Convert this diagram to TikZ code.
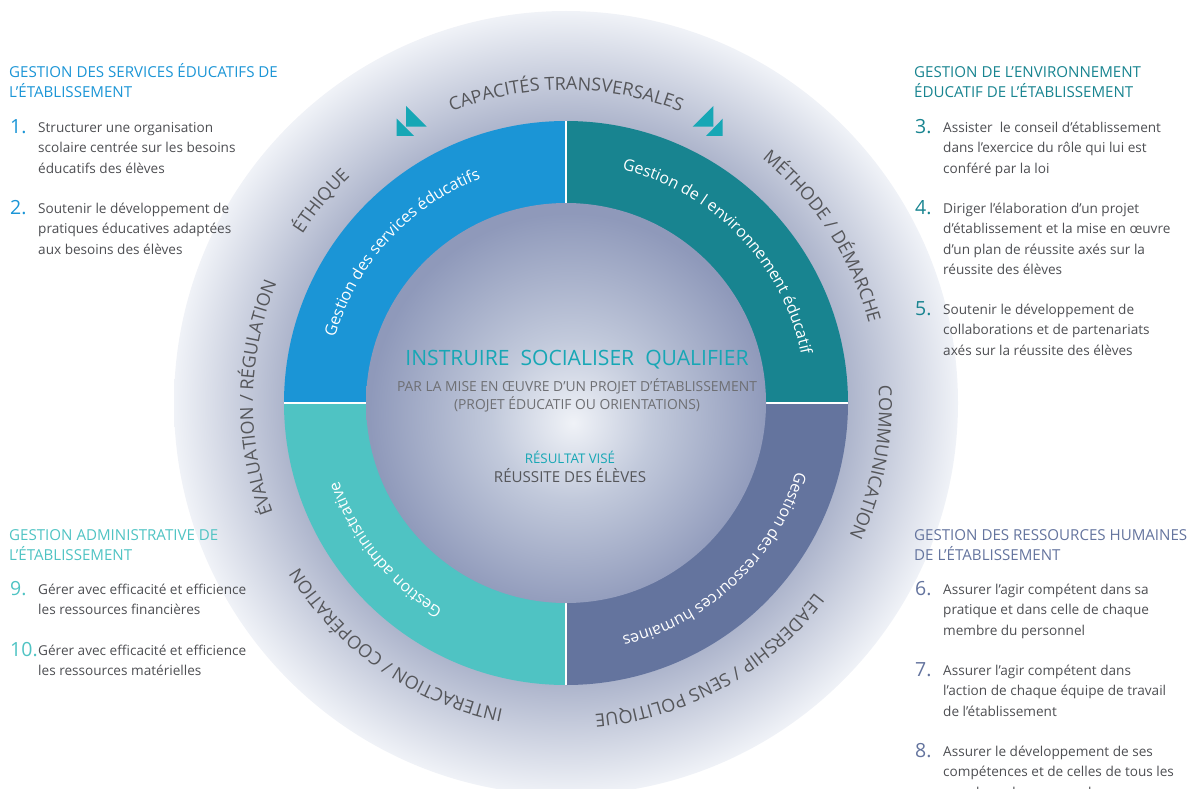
\documentclass[tikz,border=0pt]{standalone}
\usepackage{fontspec}
\usetikzlibrary{decorations.text}
\setmainfont{Open Sans}
\definecolor{blueseg}{HTML}{1B95D6}
\definecolor{tealseg}{HTML}{188490}
\definecolor{mintseg}{HTML}{4FC3C3}
\definecolor{slateseg}{HTML}{64749E}
\definecolor{accent}{HTML}{17A7B5}
\definecolor{arcgray}{HTML}{55565A}
\definecolor{bodygray}{HTML}{4D4E52}
\pgfdeclareradialshading{halo}{\pgfpoint{0bp}{0bp}}{rgb(0bp)=(0.62,0.66,0.77);rgb(18bp)=(0.68,0.71,0.80);rgb(25bp)=(0.94,0.95,0.97);rgb(50bp)=(0.94,0.95,0.97)}
\pgfdeclareradialshading{core}{\pgfpoint{0.9bp}{-2.5bp}}{rgb(0bp)=(0.94,0.95,0.97);rgb(10bp)=(0.76,0.79,0.86);rgb(25bp)=(0.56,0.60,0.73);rgb(50bp)=(0.56,0.60,0.73)}
\tikzset{
  itemtext/.style={anchor=north west,inner sep=0pt,align=left,text=bodygray,font=\fontsize{13.6}{20.4}\selectfont},
  itemnum/.style={anchor=base west,inner sep=0pt,font=\fontsize{19.5}{20}\selectfont},
  headtext/.style={anchor=north west,inner sep=0pt,align=left,font=\fontsize{15.1}{20}\selectfont},
  ringsep/.style={draw=white,line width=1.4pt}
}
% text on a clockwise arc round (ctr): radius, middle angle, format, words
\newcommand{\arctext}[4]{\path[decorate,decoration={text along path,text align=center,text={|#3|#4}}] ([shift={(#2+40:#1)}]ctr) arc[start angle=#2+40,end angle=#2-40,radius=#1];}
\newcommand{\capsarc}{\fontsize{18}{18}\selectfont\color{arcgray}}
\newcommand{\ringarc}{\fontsize{16}{16}\selectfont\color{white}}
\begin{document}
\begin{tikzpicture}[x=1pt,y=1pt]
    \useasboundingbox (0,0) rectangle (1188,-789);
    \coordinate (ctr) at (566,-403);
    \begin{scope}
    \clip (0,0) rectangle (1188,-789);
    \shade[shading=halo] (ctr) circle(392);
    \end{scope}
    % the four segments
    \foreach \a/\c in {180/blueseg,90/tealseg,0/slateseg,-90/mintseg}
    \fill[\c] (ctr) -- ++(\a:282) arc[start angle=\a,end angle=\a-90,radius=282] -- cycle;
    \draw[ringsep] (ctr) ++(0,282)--++(0,-564);
    \draw[ringsep] (ctr) ++(-282,0)--++(564,0);
    \shade[shading=core] (ctr) circle(200);
    % words round the ring
    \arctext{313}{90}{\capsarc}{CAPACITÉS TRANSVERSALES}
    \arctext{313}{33}{\capsarc}{MÉTHODE / DÉMARCHE}
    \arctext{313}{-11}{\capsarc}{COMMUNICATION}
    \arctext{313}{-61}{\capsarc}{LEADERSHIP / SENS POLITIQUE}
    \arctext{313}{-125}{\capsarc}{INTERACTION / COOPÉRATION}
    \arctext{313}{-181}{\capsarc}{ÉVALUATION / RÉGULATION}
    \arctext{313}{140.5}{\capsarc}{ÉTHIQUE}
    \arctext{240}{137.5}{\ringarc}{Gestion des services éducatifs}
    \arctext{240}{44}{\ringarc}{Gestion de l environnement éducatif}
    \arctext{240}{-46.5}{\ringarc}{Gestion des ressources humaines}
    \arctext{240}{-141}{\ringarc}{Gestion administrative}
    % small triangles
    \fill[accent] (406,-106)--(426.7,-126.7)--(406,-126.7)--cycle;
    \fill[accent] (396.7,-118.7)--(414,-136)--(396.7,-136)--cycle;
    \fill[accent] (713.3,-106)--(692.7,-126.7)--(713.3,-126.7)--cycle;
    \fill[accent] (722.7,-118.7)--(706,-136)--(722.7,-136)--cycle;
    % centre of the disc
    \node[text=accent,font=\fontsize{21.1}{21.1}\selectfont] (mission) at (577,-360) {INSTRUIRE\ \ SOCIALISER\ \ QUALIFIER};
    \node[text=arcgray!85,font=\fontsize{13.85}{18}\selectfont,align=center] (means) at (577,-395) {PAR LA MISE EN ŒUVRE D’UN PROJET D’ÉTABLISSEMENT\\(PROJET ÉDUCATIF OU ORIENTATIONS)};
    \node[text=accent,font=\fontsize{13.3}{13.3}\selectfont] (aim) at (570,-457) {RÉSULTAT VISÉ};
    \node[text=arcgray,font=\fontsize{15.1}{15.1}\selectfont] (result) at (570,-476) {RÉUSSITE DES ÉLÈVES};
    % headings
    \foreach \x/\y/\c/\t in {9/63.5/blueseg/{GESTION DES SERVICES ÉDUCATIFS DE\\L’ÉTABLISSEMENT},
    914/63.5/tealseg/{GESTION DE L’ENVIRONNEMENT\\ÉDUCATIF DE L’ÉTABLISSEMENT},
    9/526.5/mintseg/{GESTION ADMINISTRATIVE DE\\L’ÉTABLISSEMENT},
    914/526.5/slateseg/{GESTION DES RESSOURCES HUMAINES\\DE L’ÉTABLISSEMENT}}
    \node[headtext,text=\c] at (\x,-\y) {\vphantom{É}\t};
    % numbered items
    \foreach \x/\y/\c/\n/\t in {10/127/blueseg/1/{Structurer une organisation\\scolaire centrée sur les besoins\\éducatifs des élèves},
    10/208/blueseg/2/{Soutenir le développement de\\pratiques éducatives adaptées\\aux besoins des élèves},
    915/127/tealseg/3/{Assister\ \ le conseil d’établissement\\dans l’exercice du rôle qui lui est\\conféré par la loi},
    915/208/tealseg/4/{Diriger l’élaboration d’un projet\\d’établissement et la mise en œuvre\\d’un plan de réussite axés sur la\\réussite des élèves},
    915/309/tealseg/5/{Soutenir le développement de\\collaborations et de partenariats\\axés sur la réussite des élèves},
    915/589/slateseg/6/{Assurer l’agir compétent dans sa\\pratique et dans celle de chaque\\membre du personnel},
    915/670/slateseg/7/{Assurer l’agir compétent dans\\l’action de chaque équipe de travail\\de l’établissement},
    915/751/slateseg/8/{Assurer le développement de ses\\compétences et de celles de tous les\\membres du personnel},
    10/589/mintseg/9/{Gérer avec efficacité et efficience\\les ressources financières},
    10/650/mintseg/10/{Gérer avec efficacité et efficience\\les ressources matérielles}}
    {
    \node[itemnum,text=\c] (num\n) at (\x,-\y-6) {\n.};
    \node[itemtext] (item\n) at (\x+28,-\y+7.5) {\vphantom{É}\t};
    }
\end{tikzpicture}
\end{document}
